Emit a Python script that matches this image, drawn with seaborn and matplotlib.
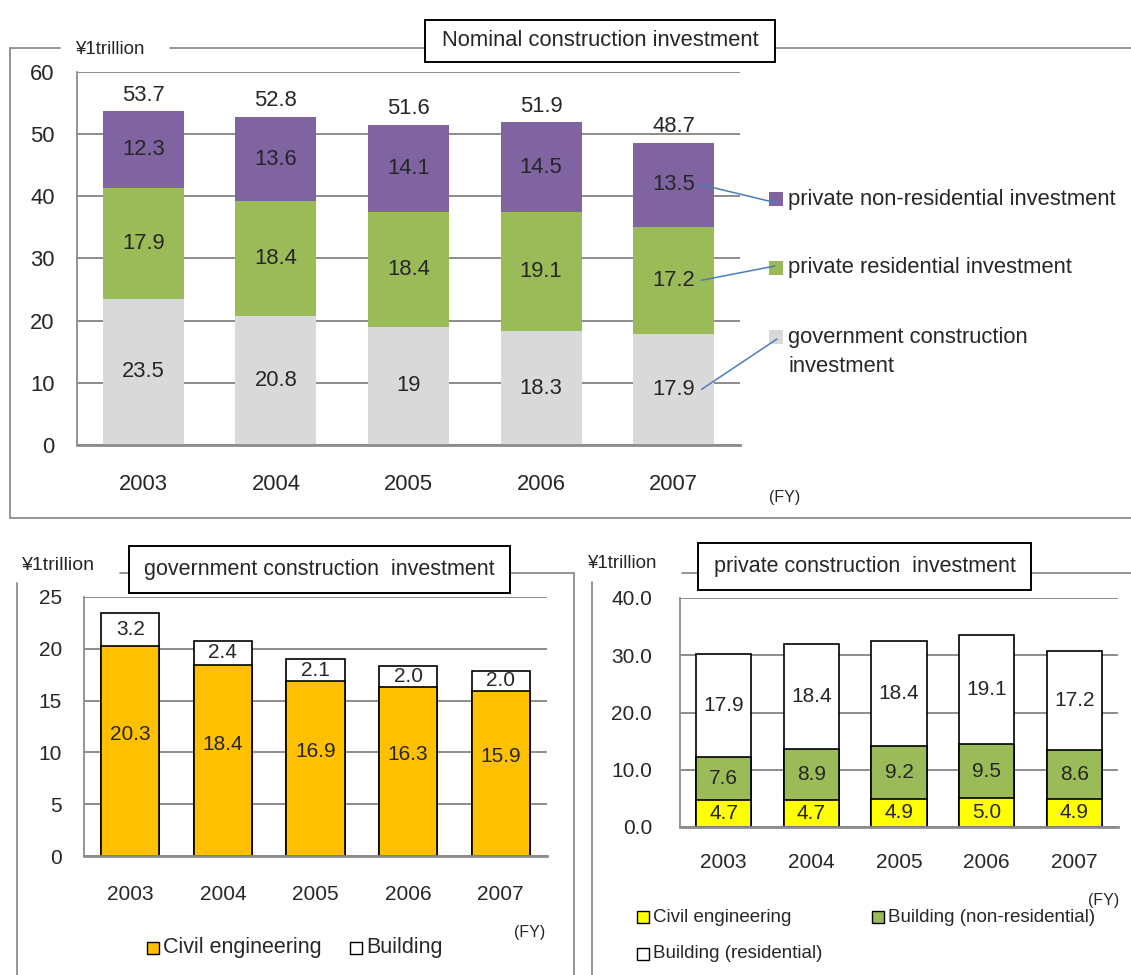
import numpy as np
import pandas as pd
import matplotlib
matplotlib.use("Agg")
import matplotlib.pyplot as plt
import seaborn as sns
from matplotlib import font_manager
from matplotlib.patches import Rectangle, ConnectionPatch
from matplotlib.lines import Line2D

# ---------------- data ----------------
years = ["2003", "2004", "2005", "2006", "2007"]

# top: nominal construction investment
nom_gov = [23.5, 20.8, 19.0, 18.3, 17.9]
nom_gov_labels = ["23.5", "20.8", "19", "18.3", "17.9"]
nom_priv_res = [17.9, 18.4, 18.4, 19.1, 17.2]
nom_priv_nonres = [12.3, 13.6, 14.1, 14.5, 13.5]
nom_total = [53.7, 52.8, 51.6, 51.9, 48.7]
top_series = ["government construction", "private residential investment",
              "private non-residential investment"]
top_series_2nd_line = "investment"

# bottom left: government construction investment
gov_civil = [20.3, 18.4, 16.9, 16.3, 15.9]
gov_building = [3.2, 2.4, 2.1, 2.0, 2.0]
gov_series = ["Civil engineering", "Building"]

# bottom right: private construction investment
priv_civil = [4.7, 4.7, 4.9, 5.0, 4.9]
priv_bld_nonres = [7.6, 8.9, 9.2, 9.5, 8.6]
priv_bld_res = [17.9, 18.4, 18.4, 19.1, 17.2]
priv_series = ["Civil engineering", "Building (non-residential)", "Building (residential)"]

top_ticks = [0, 10, 20, 30, 40, 50, 60]
gov_ticks = [0, 5, 10, 15, 20, 25]
priv_ticks = [0, 10, 20, 30, 40]

# ---------------- style ----------------
sns.set_style("white")
avail = {f.name for f in font_manager.fontManager.ttflist}
REG = "Liberation Sans" if "Liberation Sans" in avail else "DejaVu Sans"
if "Liberation Sans Narrow" in avail:
    NARROW = "Liberation Sans Narrow"
    S_TOP, S_TOPBIG, S_FY = 18, 19, 12.5
else:
    NARROW = REG
    S_TOP, S_TOPBIG, S_FY = 15.8, 15.8, 11.5
plt.rcParams["font.family"] = [REG, "DejaVu Sans"]

GRID = "#8c8c8c"
W, H = 1131, 975


def fx(x):
    return x / W


def fy(y):
    return 1 - y / H


def rect(l, t, r, b):
    return [l / W, 1 - b / H, (r - l) / W, (b - t) / H]


fig = plt.figure(figsize=(W / 100, H / 100), dpi=100)


def fline(x0, y0, x1, y1, color=GRID, lw=1.3):
    fig.add_artist(Line2D([fx(x0), fx(x1)], [fy(y0), fy(y1)], transform=fig.transFigure,
                          color=color, lw=lw, zorder=1))


def title_box(l, t, r, b, text, fam, size):
    fig.add_artist(Rectangle((fx(l), fy(b)), (r - l) / W, (b - t) / H, transform=fig.transFigure,
                             facecolor="white", edgecolor="black", lw=1.4, zorder=5))
    fig.text(fx((l + r) / 2), fy((t + b) / 2), text, ha="center", va="center",
             family=[fam, "DejaVu Sans"], fontsize=size, zorder=6)


def legend_item(x, y, color, text, fam, size, edge="black"):
    fig.add_artist(Rectangle((fx(x), fy(y + 6)), 12 / W, 12 / H, transform=fig.transFigure,
                             facecolor=color, edgecolor=edge, lw=1.0, zorder=5))
    fig.text(fx(x + 16), fy(y), text, ha="left", va="center", family=[fam, "DejaVu Sans"],
             fontsize=size, zorder=6)


def stacked(ax, layers, colors, width, edge=None, lw=0.0):
    cum = np.cumsum(np.array(layers, dtype=float), axis=0)
    for i in range(len(layers) - 1, -1, -1):
        df = pd.DataFrame({"year": years, "value": cum[i]})
        sns.barplot(data=df, x="year", y="value", order=years, color=colors[i], saturation=1,
                    width=width, edgecolor=edge if edge else colors[i], linewidth=lw,
                    errorbar=None, ax=ax, zorder=3)
    return cum


def style_axes(ax, ticks, ylim, fam, size, ypad, xpad, fmt=None):
    ax.set_ylim(*ylim)
    ax.set_xlim(-0.5, len(years) - 0.5)
    ax.set_xlabel("")
    ax.set_ylabel("")
    ax.set_yticks(ticks)
    if fmt:
        ax.set_yticklabels([fmt.format(t) for t in ticks])
    ax.set_axisbelow(True)
    ax.yaxis.grid(True, color=GRID, lw=1.4, zorder=0)
    ax.xaxis.grid(False)
    for s in ["top", "right"]:
        ax.spines[s].set_visible(False)
    ax.spines["left"].set_color(GRID)
    ax.spines["left"].set_linewidth(1.3)
    ax.spines["bottom"].set_color(GRID)
    ax.spines["bottom"].set_linewidth(2.0)
    ax.spines["bottom"].set_zorder(4)
    ax.tick_params(axis="y", length=6, width=1.3, color=GRID, pad=ypad, labelsize=size)
    ax.set_xticks(np.arange(-0.5, len(years)), minor=True)
    ax.tick_params(axis="x", which="minor", length=7, width=1.3, color=GRID, direction="out")
    ax.tick_params(axis="x", which="major", length=0, pad=xpad, labelsize=size)
    for lab in ax.get_xticklabels() + ax.get_yticklabels():
        lab.set_family([fam, "DejaVu Sans"])
    ax.set_facecolor("none")


# ================= TOP CHART =================
ax1 = fig.add_axes(rect(77, 72, 740, 445))
c_top = ["#D9D9D9", "#9BBB59", "#8064A2"]
cum1 = stacked(ax1, [nom_gov, nom_priv_res, nom_priv_nonres], c_top, 0.61)
style_axes(ax1, top_ticks, (0, 60), NARROW, S_TOP, 10, 21)

for i in range(len(years)):
    ax1.text(i, cum1[0][i] / 2, nom_gov_labels[i], ha="center", va="center",
             family=[NARROW], fontsize=S_TOP, zorder=6)
    ax1.text(i, (cum1[0][i] + cum1[1][i]) / 2, f"{nom_priv_res[i]:.1f}", ha="center",
             va="center", family=[NARROW], fontsize=S_TOP, zorder=6)
    ax1.text(i, (cum1[1][i] + cum1[2][i]) / 2, f"{nom_priv_nonres[i]:.1f}", ha="center",
             va="center", family=[NARROW], fontsize=S_TOP, zorder=6)
    ax1.annotate(f"{nom_total[i]:.1f}", (i, cum1[2][i]), xytext=(0, 4),
                 textcoords="offset points", ha="center", va="bottom",
                 family=[NARROW], fontsize=S_TOP, zorder=6)

# frame of top chart
fline(10, 48, 60, 48)
fline(170, 48, 1131, 48)
fline(10, 48, 10, 518)
fline(10, 518, 1131, 518)
fig.text(fx(75), fy(49), "¥1trillion", ha="left", va="center", fontsize=13.5)
title_box(425, 20, 775, 62, "Nominal construction investment", NARROW, S_TOPBIG)
fig.text(fx(785), fy(497), "(FY)", ha="center", va="center", family=[NARROW], fontsize=S_FY)

# top legend with leader lines
leg_y = [337, 268, 199]
for k in range(3):
    fig.add_artist(Rectangle((fx(769), fy(leg_y[k] + 7)), 14 / W, 14 / H,
                             transform=fig.transFigure, facecolor=c_top[k],
                             edgecolor=c_top[k], lw=0, zorder=5))
fig.text(fx(788), fy(199), top_series[2], ha="left", va="center",
         family=[NARROW], fontsize=S_TOPBIG)
fig.text(fx(788), fy(268), top_series[1], ha="left", va="center",
         family=[NARROW], fontsize=S_TOPBIG)
fig.text(fx(788), fy(338), top_series[0], ha="left", va="center",
         family=[NARROW], fontsize=S_TOPBIG)
fig.text(fx(788), fy(366), top_series_2nd_line, ha="left", va="center",
         family=[NARROW], fontsize=S_TOPBIG)

last = len(years) - 1
mids = [cum1[0][last] / 2, (cum1[0][last] + cum1[1][last]) / 2,
        (cum1[1][last] + cum1[2][last]) / 2]
ends = [(777, 339), (775, 266), (777, 203)]
for k in range(3):
    cp = ConnectionPatch(xyA=(last + 0.21, mids[k]), coordsA=ax1.transData,
                         xyB=(fx(ends[k][0]), fy(ends[k][1])), coordsB=fig.transFigure,
                         color="#4a7ebb", lw=1.1, zorder=7)
    fig.add_artist(cp)

# ================= BOTTOM LEFT =================
ax2 = fig.add_axes(rect(84, 597, 547, 856))
c_gov = ["#FFC000", "#FFFFFF"]
cum2 = stacked(ax2, [gov_civil, gov_building], c_gov, 0.63, edge="black", lw=1.2)
style_axes(ax2, gov_ticks, (0, 25), REG, 15, 10, 21)
for i in range(len(years)):
    ax2.annotate(f"{gov_civil[i]:.1f}", (i, cum2[0][i] / 2), xytext=(0, 12),
                 textcoords="offset points", ha="center", va="center", fontsize=15, zorder=6)
    ax2.text(i, (cum2[0][i] + cum2[1][i]) / 2, f"{gov_building[i]:.1f}", ha="center",
             va="center", fontsize=15, zorder=6)

fline(17, 583, 17, 975)
fline(120, 573, 574, 573)
fline(574, 573, 574, 975)
fig.text(fx(22), fy(565), "¥1trillion", ha="left", va="center", fontsize=14)
title_box(129, 546, 510, 593, "government construction  investment", REG, 15.5)
fig.text(fx(530), fy(932), "(FY)", ha="center", va="center", family=[NARROW], fontsize=S_FY)
legend_item(147, 948, c_gov[0], gov_series[0], REG, 15.5)
legend_item(350, 948, c_gov[1], gov_series[1], REG, 15.5)

# ================= BOTTOM RIGHT =================
ax3 = fig.add_axes(rect(680, 598, 1118, 827))
c_priv = ["#FFFF00", "#9BBB59", "#FFFFFF"]
cum3 = stacked(ax3, [priv_civil, priv_bld_nonres, priv_bld_res], c_priv, 0.63,
               edge="black", lw=1.2)
style_axes(ax3, priv_ticks, (0, 40), REG, 15, 14, 19, fmt="{:.1f}")
for i in range(len(years)):
    ax3.text(i, cum3[0][i] / 2, f"{priv_civil[i]:.1f}", ha="center", va="center",
             fontsize=15, zorder=6)
    ax3.text(i, (cum3[0][i] + cum3[1][i]) / 2, f"{priv_bld_nonres[i]:.1f}", ha="center",
             va="center", fontsize=15, zorder=6)
    ax3.text(i, (cum3[1][i] + cum3[2][i]) / 2, f"{priv_bld_res[i]:.1f}", ha="center",
             va="center", fontsize=15, zorder=6)

fline(592, 582, 592, 975)
fline(682, 573, 1131, 573)
fig.text(fx(587), fy(563), "¥1trillion", ha="left", va="center", fontsize=13.5)
title_box(698, 543, 1031, 590, "private construction  investment", REG, 15.5)
fig.text(fx(1104), fy(901), "(FY)", ha="center", va="center", family=[NARROW], fontsize=S_FY)
legend_item(637, 917, c_priv[0], priv_series[0], REG, 13.5)
legend_item(872, 917, c_priv[1], priv_series[1], REG, 13.5)
legend_item(637, 954, c_priv[2], priv_series[2], REG, 13.5)

fig.savefig("out.png", dpi=100)
